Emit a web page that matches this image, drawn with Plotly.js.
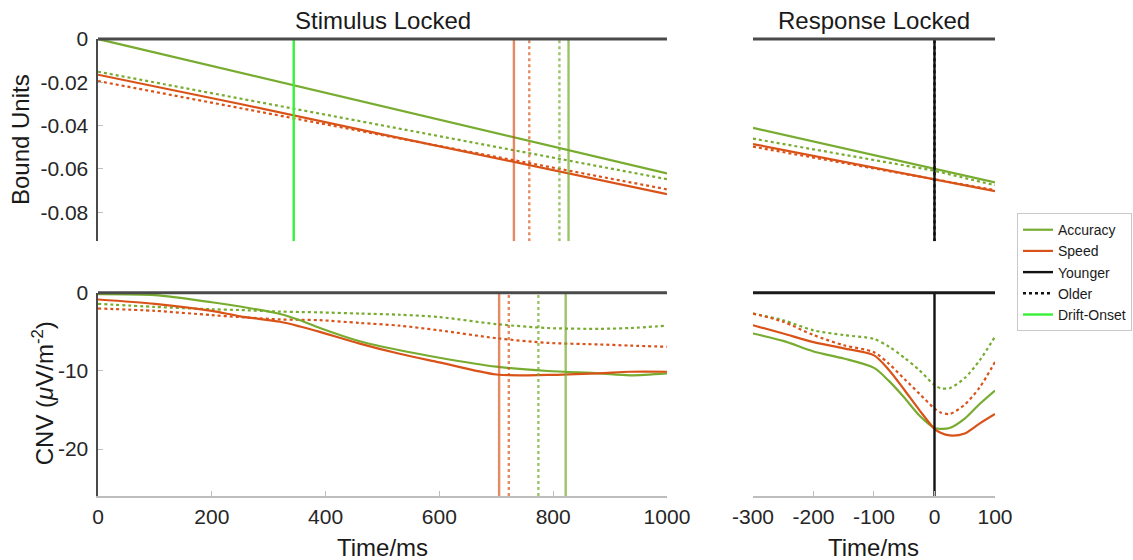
<!DOCTYPE html>
<html>
<head>
<meta charset="utf-8">
<script src="https://cdn.plot.ly/plotly-3.0.1.min.js"></script>
<style>html,body{margin:0;padding:0;background:#fff}#chart{width:1133px;height:560px}</style>
</head>
<body>
<div id="chart"></div>
<script>
// ---------- Data ----------
// Bound, stimulus locked
const stimTimeBound = [0, 250, 500, 750, 1000];
const boundAccYoung = [0, -0.0155, -0.031, -0.0465, -0.062];
const boundAccOld   = [-0.0151, -0.0275, -0.0399, -0.0523, -0.0647];
const boundSpdYoung = [-0.0165, -0.0300, -0.0440, -0.0578, -0.0716];
const boundSpdOld   = [-0.0194, -0.0319, -0.0444, -0.0569, -0.0694];

// Bound, response locked
const respTimeBound  = [-300, -200, -100, 0, 100];
const rBoundAccYoung = [-0.0410, -0.0473, -0.0535, -0.0597, -0.0662];
const rBoundAccOld   = [-0.0460, -0.0509, -0.0559, -0.0608, -0.0675];
const rBoundSpdYoung = [-0.0485, -0.0540, -0.0594, -0.0647, -0.0702];
const rBoundSpdOld   = [-0.0497, -0.0548, -0.0599, -0.0650, -0.0698];

// Mean RT markers (ms) and drift onset
const rtBoundAccYoung = 827, rtBoundAccOld = 811, rtBoundSpdYoung = 731, rtBoundSpdOld = 758;
const rtCnvAccYoung = 822, rtCnvAccOld = 774, rtCnvSpdYoung = 705, rtCnvSpdOld = 722;
const driftOnset = 344;
const responseTime = 0;

// CNV, stimulus locked
const stimTimeCNV = [0, 100, 200, 250, 320, 355, 390, 460, 530, 600, 700, 790, 880, 935, 1000];
const cnvAccYoung = [-0.17, -0.3, -1.2, -1.75, -2.7, -3.5, -4.5, -6.2, -7.35, -8.3, -9.45, -10.0, -10.3, -10.55, -10.3];
const cnvSpdYoung = [-0.85, -1.4, -2.3, -3.0, -3.7, -4.3, -5.0, -6.5, -7.8, -8.9, -10.45, -10.5, -10.3, -10.1, -10.1];
const cnvAccOld   = [-1.4, -1.8, -2.1, -2.2, -2.4, -2.45, -2.5, -2.65, -2.8, -3.1, -4.0, -4.5, -4.6, -4.5, -4.2];
const cnvSpdOld   = [-2.0, -2.3, -2.85, -3.1, -3.4, -3.45, -3.5, -3.85, -4.2, -4.8, -5.8, -6.4, -6.6, -6.75, -6.9];

// CNV, response locked
const respTimeCNV  = [-300, -250, -200, -150, -100, -75, -50, -25, 0, 10, 25, 50, 75, 100];
const rCnvAccYoung = [-5.2, -6.15, -7.5, -8.4, -9.6, -11.3, -13.4, -15.7, -17.3, -17.4, -17.3, -16.1, -14.2, -12.5];
const rCnvSpdYoung = [-4.15, -5.2, -6.3, -7.1, -8.0, -9.9, -12.4, -15.0, -17.4, -17.9, -18.25, -18.0, -16.7, -15.5];
const rCnvAccOld   = [-2.65, -3.5, -4.8, -5.4, -5.9, -6.9, -8.3, -9.9, -11.8, -12.2, -12.2, -10.9, -8.6, -5.6];
const rCnvSpdOld   = [-2.65, -3.7, -5.4, -6.7, -7.6, -9.1, -11.0, -12.9, -14.8, -15.3, -15.5, -14.3, -12.05, -8.85];

// Axis ranges and ticks
const stimRange = [0, 1000];
const respRange = [-300, 100];
const boundRange = [-0.0933, 0];
const cnvRange = [-26, 0];
const boundTickVals = [0, -0.02, -0.04, -0.06, -0.08];
const boundTickText = ['0', '-0.02', '-0.04', '-0.06', '-0.08'];
const cnvTickVals = [0, -10, -20];
const cnvTickText = ['0', '-10', '-20'];
const stimTickVals = [0, 200, 400, 600, 800, 1000];
const stimTickText = ['0', '200', '400', '600', '800', '1000'];
const respTickVals = [-300, -200, -100, 0, 100];
const respTickText = ['-300', '-200', '-100', '0', '100'];

// ---------- Styles ----------
const GREEN = '#77AC30', ORANGE = '#D95319';
const GREEN_V = 'rgba(119,172,48,0.72)', ORANGE_V = 'rgba(217,83,25,0.68)';
const DRIFT = 'rgb(55,240,55)';
const FONT = 'Liberation Sans, Arial, Helvetica, sans-serif';
const LW = 2.2;

function line(x, y, color, dash, xa, ya, extra) {
  return Object.assign({
    type: 'scatter', mode: 'lines', x: x, y: y, xaxis: xa, yaxis: ya,
    line: {color: color, width: LW, dash: dash || 'solid'},
    showlegend: false, hoverinfo: 'skip'
  }, extra || {});
}
function curve(x, y, color, dash, xa, ya) {
  const t = line(x, y, color, dash, xa, ya);
  t.line.shape = 'spline';
  t.line.smoothing = 0.8;
  return t;
}
function vline(xv, yr, color, dash, xa, ya, extra) {
  const t = line([xv, xv], [yr[0], yr[1]], color, dash, xa, ya, extra);
  t.line.width = 2.4;
  return t;
}

const traces = [
  // top-left: bound, stimulus locked
  line(stimTimeBound, boundAccOld, GREEN, 'dot', 'x', 'y'),
  line(stimTimeBound, boundSpdOld, ORANGE, 'dot', 'x', 'y'),
  line(stimTimeBound, boundSpdYoung, ORANGE, 'solid', 'x', 'y', {name: 'Speed', showlegend: true, legendrank: 2}),
  line(stimTimeBound, boundAccYoung, GREEN, 'solid', 'x', 'y', {name: 'Accuracy', showlegend: true, legendrank: 1}),
  vline(driftOnset, boundRange, DRIFT, 'solid', 'x', 'y', {name: 'Drift-Onset', showlegend: true, legendrank: 5}),
  vline(rtBoundSpdYoung, boundRange, ORANGE_V, 'solid', 'x', 'y'),
  vline(rtBoundSpdOld, boundRange, ORANGE_V, 'dot', 'x', 'y'),
  vline(rtBoundAccOld, boundRange, GREEN_V, 'dot', 'x', 'y'),
  vline(rtBoundAccYoung, boundRange, GREEN_V, 'solid', 'x', 'y'),

  // top-right: bound, response locked
  line(respTimeBound, rBoundAccOld, GREEN, 'dot', 'x2', 'y2'),
  line(respTimeBound, rBoundSpdOld, ORANGE, 'dot', 'x2', 'y2'),
  line(respTimeBound, rBoundSpdYoung, ORANGE, 'solid', 'x2', 'y2'),
  line(respTimeBound, rBoundAccYoung, GREEN, 'solid', 'x2', 'y2'),
  vline(responseTime, boundRange, '#111111', 'solid', 'x2', 'y2', {name: 'Younger', showlegend: true, legendrank: 3}),
  vline(responseTime, boundRange, '#111111', 'dot', 'x2', 'y2', {name: 'Older', showlegend: true, legendrank: 4}),

  // bottom-left: CNV, stimulus locked
  curve(stimTimeCNV, cnvAccOld, GREEN, 'dot', 'x3', 'y3'),
  curve(stimTimeCNV, cnvSpdOld, ORANGE, 'dot', 'x3', 'y3'),
  curve(stimTimeCNV, cnvAccYoung, GREEN, 'solid', 'x3', 'y3'),
  curve(stimTimeCNV, cnvSpdYoung, ORANGE, 'solid', 'x3', 'y3'),
  vline(rtCnvSpdYoung, cnvRange, ORANGE_V, 'solid', 'x3', 'y3'),
  vline(rtCnvSpdOld, cnvRange, ORANGE_V, 'dot', 'x3', 'y3'),
  vline(rtCnvAccOld, cnvRange, GREEN_V, 'dot', 'x3', 'y3'),
  vline(rtCnvAccYoung, cnvRange, GREEN_V, 'solid', 'x3', 'y3'),

  // bottom-right: CNV, response locked
  curve(respTimeCNV, rCnvAccOld, GREEN, 'dot', 'x4', 'y4'),
  curve(respTimeCNV, rCnvSpdOld, ORANGE, 'dot', 'x4', 'y4'),
  curve(respTimeCNV, rCnvAccYoung, GREEN, 'solid', 'x4', 'y4'),
  curve(respTimeCNV, rCnvSpdYoung, ORANGE, 'solid', 'x4', 'y4'),
  vline(responseTime, cnvRange, '#111111', 'solid', 'x4', 'y4')
];

const tickFont = {family: FONT, size: 21, color: '#262626'};
const DARK = '#4a4a4a', LIGHT = '#bdbdbd';
const XL = [0, 0.6343], XR = [0.7302, 1], YT = [0.5577, 1], YB = [0, 0.4445];

function hiddenAxis(dom, rng, anchor) {
  return {domain: dom, range: rng, anchor: anchor, visible: false, fixedrange: true};
}
function yAxisLeft(dom, rng, anchor, tv, tt) {
  return {domain: dom, range: rng, anchor: anchor, showline: true, linecolor: DARK, linewidth: 2.5,
    ticks: 'inside', ticklen: 5, tickwidth: 1, tickcolor: LIGHT, tickvals: tv, ticktext: tt,
    tickfont: tickFont, ticklabelstandoff: 3, showgrid: false, zeroline: false, fixedrange: true, automargin: false};
}
function xAxisBottom(dom, rng, anchor, tv, tt) {
  return {domain: dom, range: rng, anchor: anchor, showline: true, linecolor: LIGHT, linewidth: 1.5,
    ticks: 'inside', ticklen: 5, tickwidth: 1, tickcolor: LIGHT, tickvals: tv, ticktext: tt,
    tickfont: tickFont, ticklabelstandoff: 1, showgrid: false, zeroline: false, fixedrange: true, automargin: false};
}

function topLine(xa, ya, color) {
  return {type: 'line', xref: xa + ' domain', yref: ya + ' domain', x0: 0, x1: 1, y0: 1, y1: 1,
    line: {color: color, width: 3}, layer: 'above'};
}

const titleFont = {family: FONT, size: 24, color: '#1a1a1a'};
const layout = {
  width: 1133, height: 560,
  margin: {l: 98, r: 138, t: 39, b: 64, autoexpand: false},
  paper_bgcolor: '#fff', plot_bgcolor: 'rgba(0,0,0,0)',
  font: {family: FONT, color: '#262626'},
  xaxis: {domain: XL, range: stimRange, anchor: 'y', showline: false, showticklabels: false, ticks: '', showgrid: false, zeroline: false, fixedrange: true},
  yaxis: yAxisLeft(YT, boundRange, 'x', boundTickVals, boundTickText),
  xaxis2: hiddenAxis(XR, respRange, 'y2'),
  yaxis2: hiddenAxis(YT, boundRange, 'x2'),
  xaxis3: xAxisBottom(XL, stimRange, 'y3', stimTickVals, stimTickText),
  yaxis3: yAxisLeft(YB, cnvRange, 'x3', cnvTickVals, cnvTickText),
  xaxis4: xAxisBottom(XR, respRange, 'y4', respTickVals, respTickText),
  yaxis4: hiddenAxis(YB, cnvRange, 'x4'),
  shapes: [
    topLine('x', 'y', DARK), topLine('x2', 'y2', DARK),
    topLine('x3', 'y3', DARK), topLine('x4', 'y4', '#1a1a1a')
  ],
  annotations: [
    {text: 'Stimulus Locked', xref: 'paper', yref: 'paper', x: 0.3172, y: 1.0394, xanchor: 'center', yanchor: 'middle', showarrow: false, font: titleFont},
    {text: 'Response Locked', xref: 'paper', yref: 'paper', x: 0.865, y: 1.0394, xanchor: 'center', yanchor: 'middle', showarrow: false, font: titleFont},
    {text: 'Bound Units', xref: 'paper', yref: 'paper', x: -0.0858, y: 0.779, xanchor: 'center', yanchor: 'middle', textangle: -90, showarrow: false, font: titleFont},
    {text: 'CNV (<i>μ</i>V/m<sup>-2</sup>)', xref: 'paper', yref: 'paper', x: -0.0613, y: 0.2249, xanchor: 'center', yanchor: 'middle', textangle: -90, showarrow: false, font: titleFont},
    {text: 'Time/ms', xref: 'paper', yref: 'paper', x: 0.3172, y: -0.1123, xanchor: 'center', yanchor: 'middle', showarrow: false, font: titleFont},
    {text: 'Time/ms', xref: 'paper', yref: 'paper', x: 0.865, y: -0.1123, xanchor: 'center', yanchor: 'middle', showarrow: false, font: titleFont}
  ],
  legend: {x: 1.0245, y: 0.619, xanchor: 'left', yanchor: 'top', bgcolor: '#ffffff', bordercolor: '#c8c8c8', borderwidth: 1,
    font: {family: FONT, size: 14, color: '#1a1a1a'}, itemwidth: 30, tracegroupgap: 0},
  showlegend: true
};

Plotly.newPlot('chart', traces, layout, {staticPlot: true, displayModeBar: false});
</script>
</body>
</html>
